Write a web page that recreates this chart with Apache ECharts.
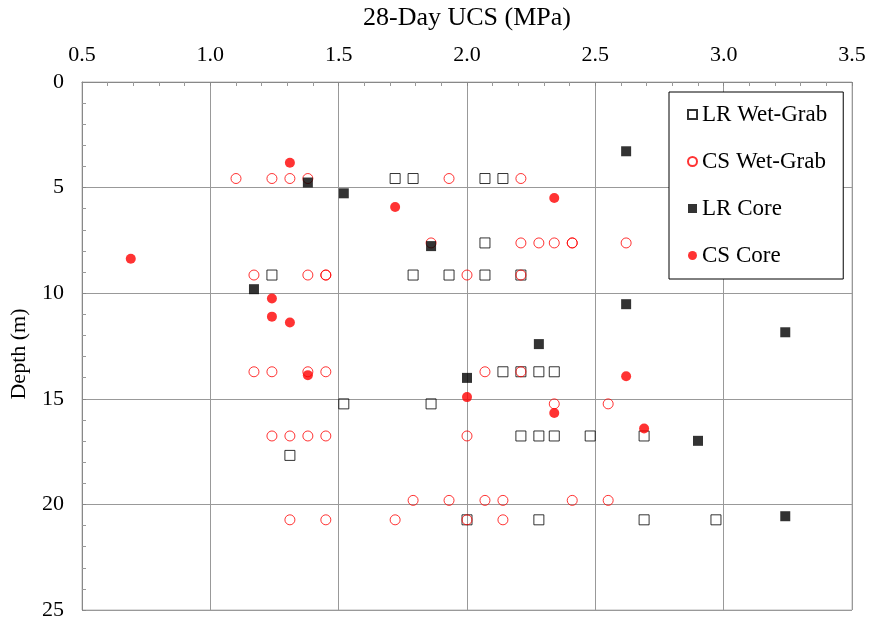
<!DOCTYPE html>
<html>
<head>
<meta charset="utf-8">
<script src="https://cdn.jsdelivr.net/npm/echarts@6/dist/echarts.min.js"></script>
<style>html,body{margin:0;padding:0;background:#fff;}#c{width:874px;height:621px;}</style>
</head>
<body>
<div id="c"></div>
<script>
// UCS (MPa), depth (m)
const xTicks = [0.5, 1.0, 1.5, 2.0, 2.5, 3.0, 3.5];
const yTicks = [0, 5, 10, 15, 20, 25];
const seriesNames = ['LR Wet-Grab', 'CS Wet-Grab', 'LR Core', 'CS Core'];

const lrWetGrab = [
  [1.72,4.57],[1.79,4.57],[2.07,4.57],[2.14,4.57],
  [2.07,7.62],
  [1.24,9.14],[1.79,9.14],[1.93,9.14],[2.07,9.14],[2.21,9.14],
  [2.14,13.72],[2.21,13.72],[2.28,13.72],[2.34,13.72],
  [1.52,15.24],[1.86,15.24],
  [2.21,16.76],[2.28,16.76],[2.34,16.76],[2.48,16.76],[2.69,16.76],
  [1.31,17.68],
  [2.00,20.73],[2.28,20.73],[2.69,20.73],[2.97,20.73]
];
const csWetGrab = [
  [1.10,4.57],[1.24,4.57],[1.31,4.57],[1.38,4.57],[1.93,4.57],[2.21,4.57],
  [1.86,7.62],[2.21,7.62],[2.28,7.62],[2.34,7.62],[2.41,7.62],[2.41,7.62],[2.62,7.62],
  [1.17,9.14],[1.38,9.14],[1.45,9.14],[1.45,9.14],[2.00,9.14],[2.21,9.14],
  [1.17,13.72],[1.24,13.72],[1.38,13.72],[1.45,13.72],[2.07,13.72],[2.21,13.72],
  [2.34,15.24],[2.55,15.24],
  [1.24,16.76],[1.31,16.76],[1.38,16.76],[1.45,16.76],[2.00,16.76],
  [1.79,19.81],[1.93,19.81],[2.07,19.81],[2.14,19.81],[2.41,19.81],[2.55,19.81],
  [1.31,20.73],[1.45,20.73],[1.72,20.73],[2.00,20.73],[2.14,20.73]
];
const lrCore = [
  [2.62,3.28],[1.38,4.76],[1.52,5.27],[1.86,7.77],[1.17,9.81],[2.62,10.52],
  [3.24,11.85],[2.28,12.41],[2.00,14.01],[2.90,16.99],[3.24,20.56]
];
const csCore = [
  [1.31,3.82],[2.34,5.49],[1.72,5.92],[0.69,8.37],[1.24,10.25],[1.24,11.11],
  [1.31,11.39],[1.38,13.88],[2.62,13.93],[2.00,14.92],[2.34,15.67],[2.69,16.41]
];

const FONT = '"Liberation Serif", "Times New Roman", serif';
const chart = echarts.init(document.getElementById('c'), null, {renderer: 'canvas'});
const option = {
  animation: false,
  backgroundColor: '#fff',
  textStyle: {fontFamily: FONT, color: '#000'},
  grid: {left: 80, right: 22, top: 82, bottom: 7, show: true, borderColor: '#bbb', borderWidth: 1},
  legend: {
    orient: 'vertical',
    left: 669, top: 92,
    padding: [11, 16, 12, 18],
    itemGap: 24,
    itemWidth: 9, itemHeight: 9,
    borderColor: '#000', borderWidth: 1,
    backgroundColor: '#fff',
    textStyle: {fontFamily: FONT, fontSize: 23, color: '#000'},
    data: seriesNames
  },
  xAxis: {
    type: 'value', position: 'top',
    min: xTicks[0], max: xTicks[xTicks.length - 1], interval: 0.5,
    name: '28-Day UCS (MPa)', nameLocation: 'middle', nameGap: 51,
    nameTextStyle: {fontFamily: FONT, fontSize: 26, color: '#000'},
    axisLine: {show: true, lineStyle: {color: '#888', width: 1}},
    axisTick: {show: true, inside: true, length: 4, lineStyle: {color: '#888'}},
    minorTick: {show: true, splitNumber: 5, length: 4, lineStyle: {color: '#999'}},
    axisLabel: {fontFamily: FONT, fontSize: 22, color: '#000', margin: 16,
      formatter: v => v.toFixed(1)},
    splitLine: {show: true, lineStyle: {color: '#999', width: 1}}
  },
  yAxis: {
    type: 'value', inverse: true,
    min: yTicks[0], max: yTicks[yTicks.length - 1], interval: 5,
    name: 'Depth (m)', nameLocation: 'middle', nameGap: 52,
    nameTextStyle: {fontFamily: FONT, fontSize: 22, color: '#000', padding: [0, 16, 0, 0]},
    axisLine: {show: true, lineStyle: {color: '#888', width: 1}},
    axisTick: {show: true, inside: true, length: 4, lineStyle: {color: '#888'}},
    minorTick: {show: true, splitNumber: 5, length: 4, lineStyle: {color: '#999'}},
    axisLabel: {fontFamily: FONT, fontSize: 22, color: '#000', margin: 18},
    splitLine: {show: true, lineStyle: {color: '#999', width: 1}}
  },
  series: [
    {name: seriesNames[0], type: 'scatter', data: lrWetGrab, symbol: 'rect', symbolSize: 10,
      itemStyle: {color: 'rgba(255,255,255,0)', borderColor: '#000', borderWidth: 1}},
    {name: seriesNames[1], type: 'scatter', data: csWetGrab, symbol: 'circle', symbolSize: 10,
      itemStyle: {color: 'rgba(255,255,255,0)', borderColor: '#ff0000', borderWidth: 1}},
    {name: seriesNames[2], type: 'scatter', data: lrCore, symbol: 'rect', symbolSize: 10,
      itemStyle: {color: '#000'}},
    {name: seriesNames[3], type: 'scatter', data: csCore, symbol: 'circle', symbolSize: 10,
      itemStyle: {color: '#ff0000'}}
  ]
};
chart.setOption(option);
</script>
</body>
</html>
